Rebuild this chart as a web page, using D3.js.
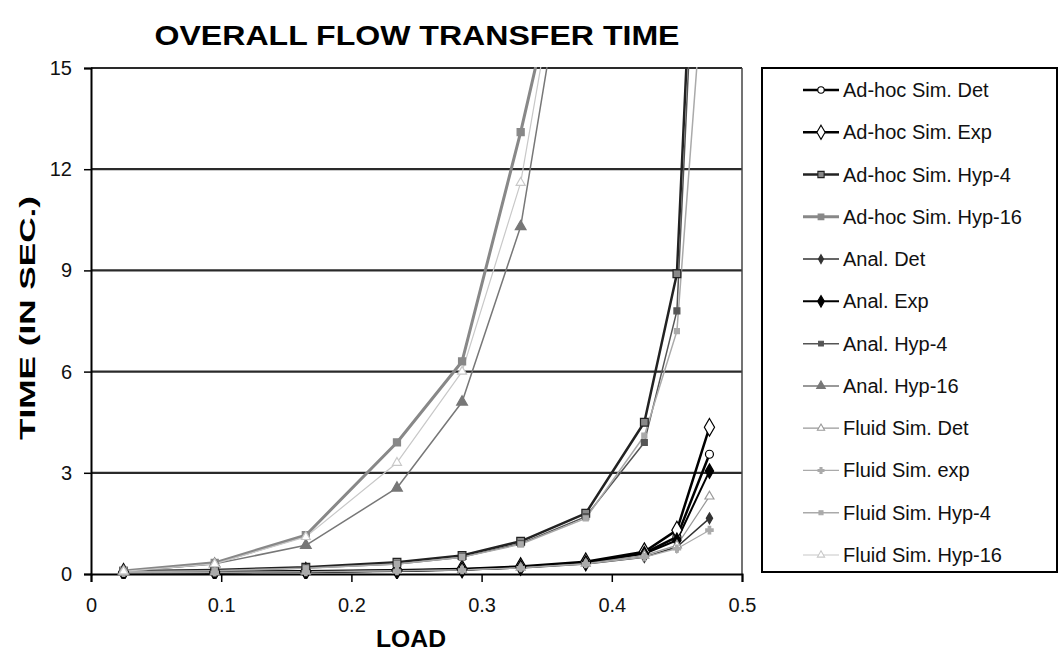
<!DOCTYPE html>
<html lang="en">
<head>
    <meta charset="UTF-8">
    <title>Overall Flow Transfer Time</title>
    <style>
        body { margin: 0; background: #fff; }
        text { font-family: "Liberation Sans", Arial, sans-serif; }
    </style>
    <script src="https://cdn.jsdelivr.net/npm/d3@7"></script>
</head>
<body>
<script>
// load values where each run was measured
var loads = [0.025, 0.095, 0.165, 0.235, 0.285, 0.33, 0.38, 0.425, 0.45, 0.475];

// times in seconds (values past 15 leave the top of the plot)
var adhocDet   = [0.05, 0.05, 0.07, 0.10, 0.13, 0.20, 0.33, 0.62, 1.10, 3.55];
var adhocExp   = [0.05, 0.06, 0.08, 0.11, 0.15, 0.22, 0.36, 0.66, 1.30, 4.35];
var adhocHyp4  = [0.08, 0.12, 0.20, 0.35, 0.55, 0.97, 1.80, 4.50, 8.90, 30];
var adhocHyp16 = [0.09, 0.33, 1.15, 3.90, 6.30, 13.1, 21.5];
var analDet    = [0.03, 0.04, 0.06, 0.09, 0.12, 0.18, 0.30, 0.50, 0.80, 1.65];
var analExp    = [0.05, 0.05, 0.07, 0.10, 0.13, 0.20, 0.33, 0.60, 1.00, 3.05];
var analHyp4   = [0.07, 0.10, 0.18, 0.30, 0.50, 0.90, 1.70, 3.90, 7.80, 28];
var analHyp16  = [0.08, 0.30, 0.85, 2.55, 5.10, 10.3, 22];
var fluidDet   = [0.04, 0.05, 0.07, 0.10, 0.12, 0.19, 0.31, 0.55, 0.85, 2.30];
var fluidExp   = [0.04, 0.05, 0.06, 0.09, 0.12, 0.18, 0.30, 0.50, 0.75, 1.30];
var fluidHyp4  = [0.07, 0.10, 0.17, 0.30, 0.50, 0.88, 1.65, 4.10, 7.20, 20];
var fluidHyp16 = [0.08, 0.30, 1.10, 3.30, 6.00, 11.6, 22.7];

var xTicks = [0, 0.1, 0.2, 0.3, 0.4, 0.5];
var yTicks = [0, 3, 6, 9, 12, 15];

var series = [
    {name: "Ad-hoc Sim. Det",    values: adhocDet,   stroke: "#000", width: 2.5, sym: d3.symbolCircle,   size: 50, fill: "#fff", mstroke: "#000"},
    {name: "Ad-hoc Sim. Exp",    values: adhocExp,   stroke: "#000", width: 2.5, sym: d3.symbolDiamond,  size: 90, fill: "#fff", mstroke: "#000"},
    {name: "Ad-hoc Sim. Hyp-4",  values: adhocHyp4,  stroke: "#222", width: 2.5, sym: d3.symbolSquare,   size: 60, fill: "#888", mstroke: "#222"},
    {name: "Ad-hoc Sim. Hyp-16", values: adhocHyp16, stroke: "#888", width: 3,   sym: d3.symbolSquare,   size: 50, fill: "#888", mstroke: "#888"},
    {name: "Anal. Det",          values: analDet,    stroke: "#333", width: 1.5, sym: d3.symbolDiamond,  size: 35, fill: "#333", mstroke: "#333"},
    {name: "Anal. Exp",          values: analExp,    stroke: "#000", width: 2,   sym: d3.symbolDiamond,  size: 60, fill: "#000", mstroke: "#000"},
    {name: "Anal. Hyp-4",        values: analHyp4,   stroke: "#555", width: 1.5, sym: d3.symbolSquare,   size: 35, fill: "#555", mstroke: "#555"},
    {name: "Anal. Hyp-16",       values: analHyp16,  stroke: "#777", width: 1.5, sym: d3.symbolTriangle, size: 50, fill: "#777", mstroke: "#777"},
    {name: "Fluid Sim. Det",     values: fluidDet,   stroke: "#999", width: 1.2, sym: d3.symbolTriangle, size: 35, fill: "#fff", mstroke: "#999"},
    {name: "Fluid Sim. exp",     values: fluidExp,   stroke: "#aaa", width: 1.2, sym: d3.symbolCross,    size: 30, fill: "#aaa", mstroke: "#aaa"},
    {name: "Fluid Sim. Hyp-4",   values: fluidHyp4,  stroke: "#aaa", width: 1.5, sym: d3.symbolSquare,   size: 25, fill: "#aaa", mstroke: "#aaa"},
    {name: "Fluid Sim. Hyp-16",  values: fluidHyp16, stroke: "#c8c8c8", width: 1.2, sym: d3.symbolTriangle, size: 35, fill: "#fff", mstroke: "#c8c8c8"}
];

var W = 1062, H = 655;
var plot = {left: 91, right: 742, top: 68, bottom: 574};

var svg = d3.select("body").append("svg")
    .attr("width", W)
    .attr("height", H);

var x = d3.scaleLinear().domain([0, 0.5]).range([plot.left, plot.right]);
var y = d3.scaleLinear().domain([0, 15]).range([plot.bottom, plot.top]);

svg.append("clipPath").attr("id", "clip")
    .append("rect")
    .attr("x", plot.left).attr("y", plot.top - 1)
    .attr("width", plot.right - plot.left + 6)
    .attr("height", plot.bottom - plot.top + 6);

// gridlines
svg.append("g")
    .selectAll("line")
    .data(yTicks.filter(d => d > 0))
    .join("line")
    .attr("x1", plot.left).attr("x2", plot.right)
    .attr("y1", d => y(d)).attr("y2", d => y(d))
    .attr("stroke", "#2a2a2a")
    .attr("stroke-width", 2.2);

// right border of plot area
svg.append("line")
    .attr("x1", plot.right).attr("x2", plot.right)
    .attr("y1", plot.top).attr("y2", plot.bottom)
    .attr("stroke", "#444").attr("stroke-width", 1.5);

// axes
var xAxis = d3.axisBottom(x).tickValues(xTicks).tickSize(8).tickFormat(d => d === 0 ? "0" : d3.format(".1f")(d));
var yAxis = d3.axisLeft(y).tickValues(yTicks).tickSize(7).tickFormat(d3.format("d"));

var gx = svg.append("g")
    .attr("transform", "translate(0," + plot.bottom + ")")
    .call(xAxis);
var gy = svg.append("g")
    .attr("transform", "translate(" + plot.left + ",0)")
    .call(yAxis);

[gx, gy].forEach(function(g) {
    g.select(".domain").attr("stroke", "#000").attr("stroke-width", 2);
    g.selectAll(".tick line").attr("stroke", "#000").attr("stroke-width", 1.5);
    g.selectAll(".tick text")
        .attr("fill", "#111")
        .style("font-size", "20px")
        .style("font-family", "Liberation Sans, Arial, sans-serif");
});
gx.selectAll(".tick text").attr("y", 24);
gy.selectAll(".tick text").attr("x", -19);

// lines and markers
var line = d3.line()
    .x((d, i) => x(loads[i]))
    .y(d => y(d));

var marks = svg.append("g").attr("clip-path", "url(#clip)");

series.forEach(function(s) {
    marks.append("path")
        .attr("d", line(s.values))
        .attr("fill", "none")
        .attr("stroke", s.stroke)
        .attr("stroke-width", s.width)
        .attr("stroke-linejoin", "round");
});

series.forEach(function(s) {
    marks.selectAll(null)
        .data(s.values.filter(v => v <= 15))
        .join("path")
        .attr("d", d3.symbol().type(s.sym).size(s.size))
        .attr("transform", (d, i) => "translate(" + x(loads[i]) + "," + y(d) + ")")
        .attr("fill", s.fill)
        .attr("stroke", s.mstroke)
        .attr("stroke-width", 1.2);
});

// title and axis labels
svg.append("text")
    .attr("x", 417).attr("y", 45)
    .attr("text-anchor", "middle")
    .attr("textLength", 525)
    .attr("lengthAdjust", "spacingAndGlyphs")
    .style("font-size", "27px")
    .style("font-weight", "bold")
    .text("OVERALL FLOW TRANSFER TIME");

svg.append("text")
    .attr("transform", "translate(35,318) rotate(-90)")
    .attr("text-anchor", "middle")
    .attr("textLength", 244)
    .attr("lengthAdjust", "spacingAndGlyphs")
    .style("font-size", "22px")
    .style("font-weight", "bold")
    .text("TIME (IN SEC.)");

svg.append("text")
    .attr("x", 411).attr("y", 647)
    .attr("text-anchor", "middle")
    .attr("textLength", 70)
    .attr("lengthAdjust", "spacingAndGlyphs")
    .style("font-size", "23px")
    .style("font-weight", "bold")
    .text("LOAD");

// legend
var legend = svg.append("g");
legend.append("rect")
    .attr("x", 762).attr("y", 68)
    .attr("width", 295).attr("height", 504)
    .attr("fill", "#fff")
    .attr("stroke", "#000")
    .attr("stroke-width", 2);

var rowY = d3.scaleLinear().domain([0, 11]).range([90, 555]);

series.forEach(function(s, i) {
    var row = legend.append("g").attr("transform", "translate(0," + rowY(i) + ")");
    row.append("line")
        .attr("x1", 803).attr("x2", 839)
        .attr("stroke", s.stroke)
        .attr("stroke-width", s.width);
    row.append("path")
        .attr("d", d3.symbol().type(s.sym).size(s.size * 0.65))
        .attr("transform", "translate(821,0)")
        .attr("fill", s.fill)
        .attr("stroke", s.mstroke)
        .attr("stroke-width", 1.1);
    row.append("text")
        .attr("x", 843).attr("y", 7)
        .attr("fill", "#111")
        .style("font-size", "20px")
        .text(s.name);
});
</script>
</body>
</html>
